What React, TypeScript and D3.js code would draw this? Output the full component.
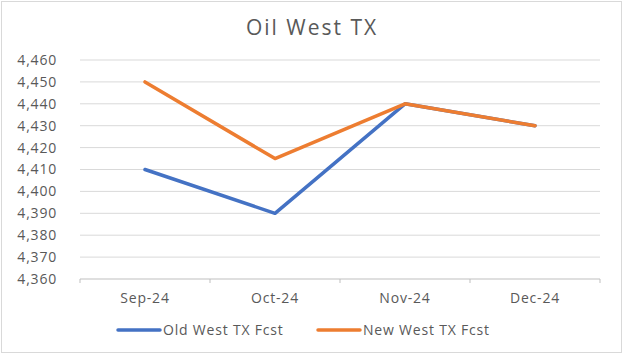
import React from 'react';
import * as d3 from 'd3';

const width = 624;
const height = 354;
const margin = { top: 60, right: 24, bottom: 75, left: 80 };

const months = ['Sep-24', 'Oct-24', 'Nov-24', 'Dec-24'];
const oldFcst = [4410, 4390, 4440, 4430];
const newFcst = [4450, 4415, 4440, 4430];
const yTicks = [4360, 4370, 4380, 4390, 4400, 4410, 4420, 4430, 4440, 4450, 4460];

const series = [
  { name: 'Old West TX Fcst', values: oldFcst, color: '#4472C4' },
  { name: 'New West TX Fcst', values: newFcst, color: '#ED7D31' },
];

const font = "'Open Sans', 'Noto Sans', sans-serif";
const textColor = '#595959';
const labelSize = 14;
const spacing = 0.8;

const App = () => {
  const x = d3.scaleBand<string>()
    .domain(months)
    .range([margin.left, width - margin.right]);

  const y = d3.scaleLinear()
    .domain([4360, 4460])
    .range([height - margin.bottom, margin.top]);

  const line = d3.line<number>()
    .x((_, i) => (x(months[i]) as number) + x.bandwidth() / 2)
    .y(d => y(d));

  const base = y(4360);

  return (
    <svg width={width} height={height} style={{ position: 'absolute', left: 0, top: 0 }}>
      <rect x={1.5} y={1.5} width={width - 4} height={height - 3} fill="#fff" stroke="#d9d9d9" />
      <text x={width / 2} y={35} textAnchor="middle" fontFamily={font} fontSize={21}
        letterSpacing={2} fill={textColor}>
        Oil West TX
      </text>

      {/* gridlines */}
      {yTicks.map(t => (
        <g key={t}>
          <line x1={margin.left} x2={width - margin.right} y1={y(t)} y2={y(t)}
            stroke={t === 4360 ? '#bfbfbf' : '#d9d9d9'} strokeWidth={1} />
          <text x={57} y={y(t)} dy="0.35em" textAnchor="end" fontFamily={font} fontSize={labelSize}
            letterSpacing={spacing} fill={textColor}>
            {d3.format(',')(t)}
          </text>
        </g>
      ))}

      {/* category ticks */}
      {[margin.left, ...months.map(m => (x(m) as number) + x.bandwidth())].map((px, i) => (
        <line key={i} x1={px} x2={px} y1={base} y2={base + 4} stroke="#bfbfbf" />
      ))}
      {months.map(m => (
        <text key={m} x={(x(m) as number) + x.bandwidth() / 2} y={303} textAnchor="middle"
          fontFamily={font} fontSize={labelSize} letterSpacing={spacing} fill={textColor}>
          {m}
        </text>
      ))}

      {series.map(s => (
        <path key={s.name} d={line(s.values) || ''} fill="none" stroke={s.color}
          strokeWidth={3.5} strokeLinejoin="round" strokeLinecap="round" />
      ))}

      {/* legend */}
      {series.map((s, i) => {
        const lx = 118 + i * 200;
        return (
          <g key={s.name}>
            <line x1={lx} x2={lx + 42} y1={330} y2={330} stroke={s.color} strokeWidth={3.5} strokeLinecap="round" />
            <text x={lx + 45} y={330} dy="0.35em" fontFamily={font} fontSize={labelSize}
              letterSpacing={spacing} fill={textColor}>
              {s.name}
            </text>
          </g>
        );
      })}
    </svg>
  );
};

export default App;
